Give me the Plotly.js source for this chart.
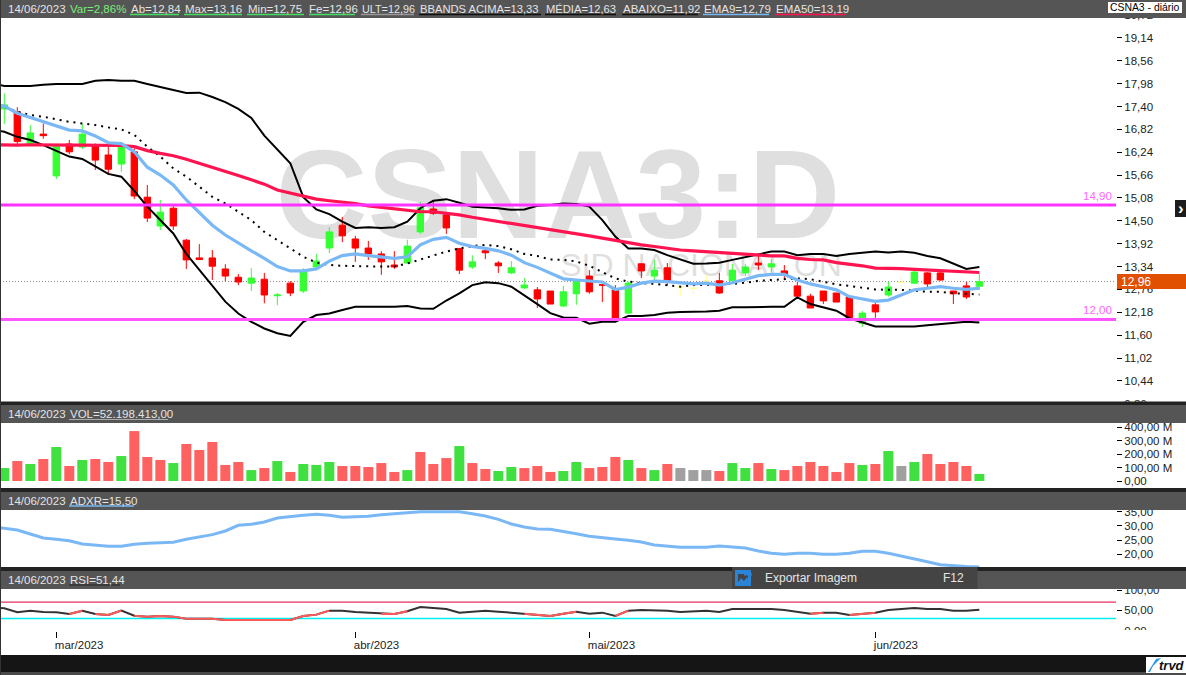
<!DOCTYPE html>
<html><head><meta charset="utf-8">
<script src="https://cdn.plot.ly/plotly-3.0.1.min.js"></script>
<style>html,body{margin:0;padding:0;background:#fff}#c{width:1186px;height:675px}</style>
</head><body><div id="c"></div>
<script>
const openP=[17.34,17.26,16.45,16.70,15.64,16.45,16.37,16.42,16.17,15.94,16.25,15.10,14.37,14.82,14.01,13.56,13.56,13.28,13.07,12.92,13.02,12.60,12.92,12.72,13.33,13.81,14.39,14.04,13.81,13.66,13.38,13.43,14.22,14.80,14.65,13.80,13.33,13.74,13.43,13.18,12.80,12.75,12.72,12.34,12.65,13.10,12.88,12.75,12.16,13.41,13.10,13.31,12.82,12.79,12.98,12.98,12.98,13.18,13.43,13.33,13.23,12.85,12.59,12.72,12.67,12.57,11.90,12.37,12.62,12.94,12.92,13.18,13.18,12.72,12.85,12.84];
const closeP=[17.44,16.51,16.73,16.66,16.42,16.25,16.70,16.04,15.81,16.45,15.13,14.57,14.72,14.37,13.51,13.52,13.35,13.10,12.95,13.05,12.62,12.62,12.67,13.20,13.48,14.22,14.12,13.81,13.66,13.46,13.33,13.86,14.83,14.69,14.32,13.25,13.46,13.69,13.36,13.31,12.87,12.52,12.39,12.70,12.98,12.70,12.87,12.01,12.92,13.23,13.25,12.98,12.82,12.79,12.98,12.67,13.25,13.33,13.38,13.41,13.15,12.59,12.29,12.47,12.44,12.04,12.16,12.19,12.82,12.94,13.20,12.90,13.00,12.65,12.57,12.96];
const highP=[17.73,17.38,16.93,16.97,16.45,16.55,16.96,16.46,16.40,16.46,16.34,15.41,15.03,14.90,14.04,13.91,13.76,13.40,13.15,13.30,13.18,12.67,12.97,13.30,13.66,14.34,14.60,14.12,13.99,13.73,13.73,14.02,14.98,15.03,14.69,13.80,13.63,13.76,13.48,13.48,13.05,12.82,12.72,12.85,13.00,13.25,12.90,12.87,12.96,13.43,13.51,13.43,12.85,12.87,13.13,13.18,13.41,13.41,13.61,13.53,13.38,12.95,12.65,12.72,12.67,12.57,12.21,12.42,12.95,13.13,13.23,13.20,13.20,12.72,12.95,13.16];
const lowP=[16.96,16.42,16.42,16.58,15.56,16.19,16.32,15.79,15.66,15.74,15.05,14.47,14.27,14.27,13.28,13.51,13.00,12.97,12.87,12.72,12.41,12.36,12.59,12.67,13.30,13.68,13.96,13.46,13.51,13.13,13.28,13.42,14.17,14.65,14.17,13.15,13.28,13.53,13.18,13.15,12.77,12.29,12.39,12.32,12.37,12.65,12.44,11.99,12.14,13.05,13.00,12.85,12.59,12.65,12.87,12.65,12.95,13.10,13.25,13.20,13.00,12.59,12.29,12.39,12.44,12.04,11.81,12.04,12.57,12.77,12.90,12.80,12.98,12.39,12.52,12.75];
const flatIdx=[52,53,54,69];
const bbUpper=[17.99,17.92,17.92,17.92,17.95,17.97,17.97,17.97,18.05,18.07,18.05,18.05,17.97,17.90,17.82,17.74,17.75,17.64,17.51,17.34,17.11,16.66,16.32,15.96,15.10,14.79,14.67,14.48,14.32,14.34,14.32,14.34,14.48,14.82,15.01,15.05,14.96,14.86,14.84,14.82,14.78,14.79,14.88,14.90,14.94,14.93,14.86,14.52,14.10,13.80,13.80,13.76,13.63,13.51,13.41,13.42,13.44,13.51,13.58,13.66,13.72,13.72,13.63,13.66,13.66,13.61,13.66,13.69,13.72,13.70,13.72,13.69,13.61,13.55,13.42,13.28,13.33];
const bbLower=[16.82,16.76,16.63,16.55,16.42,16.28,16.13,16.07,15.87,15.69,15.62,15.26,14.86,14.52,14.18,13.66,13.25,12.83,12.45,12.15,11.94,11.77,11.65,11.58,11.94,12.11,12.15,12.24,12.32,12.32,12.32,12.32,12.34,12.28,12.27,12.48,12.66,12.87,12.94,12.92,12.83,12.62,12.39,12.16,12.05,12.04,11.89,11.94,11.94,12.09,12.09,12.11,12.17,12.19,12.19,12.20,12.22,12.31,12.31,12.32,12.32,12.32,12.56,12.39,12.31,12.22,12.03,11.92,11.82,11.82,11.82,11.82,11.85,11.88,11.92,11.94,11.92];
const bbMid=[17.42,17.38,17.27,17.18,17.14,17.07,17.01,16.97,16.93,16.87,16.82,16.68,16.38,16.13,15.83,15.62,15.37,15.11,14.94,14.73,14.52,14.22,14.01,13.80,13.59,13.44,13.38,13.36,13.35,13.34,13.34,13.34,13.42,13.52,13.63,13.72,13.80,13.86,13.89,13.86,13.78,13.66,13.61,13.52,13.51,13.47,13.36,13.21,13.04,12.96,12.92,12.90,12.87,12.83,12.87,12.88,12.88,12.90,12.93,12.98,13.00,13.02,13.04,13.02,12.96,12.89,12.85,12.81,12.76,12.75,12.75,12.73,12.70,12.70,12.66,12.65,12.63];
const ema9=[17.44,17.41,17.23,17.12,17.01,16.90,16.80,16.78,16.65,16.48,16.46,16.25,15.86,15.66,15.41,15.03,14.71,14.39,14.14,13.93,13.74,13.55,13.34,13.23,13.23,13.28,13.48,13.62,13.66,13.62,13.59,13.55,13.59,13.89,14.03,14.08,13.93,13.85,13.80,13.74,13.63,13.44,13.32,13.17,13.03,13.00,12.98,12.95,12.76,12.82,12.92,12.97,12.96,12.93,12.90,12.92,12.87,12.93,13.03,13.11,13.14,13.14,13.00,12.90,12.83,12.75,12.58,12.51,12.46,12.49,12.62,12.75,12.79,12.83,12.79,12.76,12.79];
const ema50=[16.43,16.42,16.42,16.43,16.42,16.42,16.42,16.42,16.42,16.42,16.41,16.38,16.28,16.21,16.15,16.06,15.96,15.87,15.76,15.65,15.54,15.43,15.28,15.20,15.11,15.05,15.01,14.98,14.94,14.88,14.84,14.79,14.75,14.73,14.73,14.69,14.65,14.59,14.54,14.48,14.44,14.38,14.34,14.29,14.22,14.17,14.12,14.06,14.00,13.93,13.89,13.85,13.80,13.76,13.74,13.72,13.68,13.68,13.66,13.63,13.61,13.61,13.55,13.52,13.51,13.44,13.41,13.36,13.30,13.30,13.29,13.27,13.25,13.25,13.23,13.20,13.19];
const volume=[96,148,126,163,252,111,156,163,141,185,370,178,156,133,274,230,289,119,141,81,96,148,67,126,119,141,111,111,104,133,67,81,215,126,170,259,133,89,74,104,96,111,67,74,141,96,104,178,156,96,81,126,96,81,81,74,133,96,133,89,81,111,141,111,67,133,119,126,222,111,141,200,126,141,111,52.2];
const volKind="gdgdgdgddgdddgdddddgdgdgggdddddgdddgddggdd"+"dgg"+"dddgdgd"+"nnnd"+"ggdgddddddgdgngdddd"+"g";
const adxr=[29.69,29.23,28.53,27.12,25.72,25.25,24.78,23.61,23.15,22.79,22.79,23.50,23.85,24.08,24.20,25.25,25.95,26.89,28.18,30.16,30.51,31.33,32.74,33.32,33.67,34.02,33.67,32.97,33.20,33.32,33.90,34.26,34.61,34.96,34.96,34.96,34.96,34.26,33.44,32.27,30.63,29.58,28.88,28.76,28.06,27.24,26.30,25.95,25.37,24.90,24.32,23.26,22.91,22.44,22.44,22.44,22.91,22.68,22.21,21.16,20.34,19.99,20.34,20.34,19.99,19.99,20.34,21.04,21.04,20.34,19.40,18.58,17.41,16.36,15.90,15.70,15.50];
const rsi=[56.5,54.9,45.0,49.1,45.8,45.0,40.9,49.1,40.9,38.5,49.1,36.8,34.4,36.0,34.4,29.4,29.4,29.4,26.1,26.1,26.1,24.5,24.5,26.1,36.0,39.3,49.1,49.1,45.8,44.2,40.9,40.9,47.5,58.2,55.7,53.2,44.2,46.7,49.1,46.7,44.2,41.7,38.5,36.0,41.7,46.7,41.7,44.2,36.0,49.1,50.8,50.8,49.1,45.8,46.7,49.1,45.8,53.2,53.2,53.2,53.2,50.8,45.8,41.7,44.2,44.2,38.5,40.9,44.2,50.8,54.1,55.7,53.2,53.2,49.1,49.1,51.44];
const rsiRedSpans=[[5,6],[7,9],[10,25],[29,31],[40,44],[47,48],[62,63],[65,67]];
const priceTicks=[9.86,10.44,11.02,11.60,12.18,12.76,13.34,13.92,14.50,15.08,15.66,16.24,16.82,17.40,17.98,18.56,19.14,19.72];
const priceLabels=["9,86","10,44","11,02","11,60","12,18","12,76","13,34","13,92","14,50","15,08","15,66","16,24","16,82","17,40","17,98","18,56","19,14","19,72"];
const volTicks=[0,100,200,300,400];
const volLabels=["0,00","100,00 M","200,00 M","300,00 M","400,00 M"];
const adxTicks=[20,25,30,35];
const adxLabels=["20,00","25,00","30,00","35,00"];
const rsiTicks=[0,50,100];
const rsiLabels=["0,00","50,00","100,00"];
const monthTicks=[4,27,45,67];
const monthLabels=["mar/2023","abr/2023","mai/2023","jun/2023"];
const levels=[14.90,12.00];
const lastPrice=12.96;

const FONT='"Liberation Sans",sans-serif';
const FS=11.5;
const W=1186,H=675;
const px=v=>v/W, py=v=>1-v/H;
const idx=openP.map((_,i)=>i);
const lineX=[-1].concat(idx);
const keep=i=>!flatIdx.includes(i);
const pick=a=>a.filter((_,i)=>keep(i));
const pickF=a=>a.filter((_,i)=>!keep(i));
const volColor={g:'#40e040',d:'#ff6060',n:'#a0a0a0'};
function line(y,color,width,dash,ya){return {type:'scatter',mode:'lines',x:lineX,y:y,yaxis:ya||'y',line:{color:color,width:width,dash:dash||'solid'},hoverinfo:'skip',showlegend:false};}
const redX=[],redY=[];
rsiRedSpans.forEach(s=>{for(let i=s[0];i<=s[1];i++){redX.push(i);redY.push(rsi[i+1]);}redX.push(null);redY.push(null);});

const traces=[
 {type:'candlestick',x:pick(idx),open:pick(openP),high:pick(highP),low:pick(lowP),close:pick(closeP),
  increasing:{line:{color:'#33ff33',width:1},fillcolor:'#33ff33'},decreasing:{line:{color:'#ff0000',width:1},fillcolor:'#ff0000'},whiskerwidth:0,hoverinfo:'skip',showlegend:false},
 {type:'candlestick',x:pickF(idx),open:pickF(openP),high:pickF(highP),low:pickF(lowP),close:pickF(closeP),
  increasing:{line:{color:'#ffff99',width:1},fillcolor:'#ffff99'},decreasing:{line:{color:'#ffff99',width:1},fillcolor:'#ffff99'},whiskerwidth:0,hoverinfo:'skip',showlegend:false},
 line(bbUpper,'#000',2),line(bbLower,'#000',2),line(bbMid,'#000',2,'2px,5px'),
 line(ema50,'#ff1450',3.2),line(ema9,'#7ab8f5',3.2),
 {type:'bar',x:idx,y:volume,yaxis:'y2',marker:{color:idx.map(i=>volColor[volKind[i]]),line:{width:0}},hoverinfo:'skip',showlegend:false},
 line(adxr,'#7ab8f5',3,'solid','y3'),
 line(rsi,'#333',2,'solid','y4'),
 {type:'scatter',mode:'lines',x:redX,y:redY,yaxis:'y4',line:{color:'#ff5a5a',width:2},connectgaps:false,hoverinfo:'skip',showlegend:false}
];

function yaxis(top,bot,vTop,vBot,tv,tt){return {domain:[py(bot),py(top)],range:[vBot,vTop],anchor:'x',side:'right',tickmode:'array',tickvals:tv,ticktext:tt,ticks:'outside',ticklen:5,tickcolor:'#000',tickwidth:1,showgrid:false,zeroline:false,showline:false,fixedrange:true,tickfont:{family:FONT,size:FS,color:'#222'}};}

const band=(y0,y1,c,x0,x1)=>({type:'rect',layer:'above',xref:'paper',yref:'paper',x0:px(x0||0),x1:px(x1===undefined?W:x1),y0:py(y1),y1:py(y0),fillcolor:c,line:{width:0}});
const rule=(x0,x1,y,c,w)=>({type:'line',layer:'above',xref:'paper',yref:'paper',x0:px(x0),x1:px(x1),y0:py(y),y1:py(y),line:{color:c,width:w||1.5}});
const hl=(ya,v,c,w,dash,layer)=>({type:'line',layer:layer||'above',xref:'x domain',yref:ya,x0:0,x1:1,y0:v,y1:v,line:{color:c,width:w,dash:dash||'solid'}});
const poly=(pts,c)=>({type:'path',layer:'above',xref:'paper',yref:'paper',path:'M'+pts.map(p=>px(p[0])+','+py(p[1])).join(' L')+' Z',fillcolor:c,line:{width:0}});
const wm=(x0,x1,y0,y1,text,size,bold)=>({type:'rect',layer:'below',xref:'paper',yref:'paper',x0:px(x0),x1:px(x1),y0:py(y1),y1:py(y0),fillcolor:'rgba(0,0,0,0)',line:{width:0},
  label:{text:text,textposition:'middle center',font:{family:FONT,size:size,color:'#dfdfdf',weight:bold?700:400}}});

const shapes=[
 wm(258,858,122,242,'CSNA3:D',127,true),
 wm(540,862,242,282,'SID NACIONAL ON',32,false),
 hl('y',lastPrice,'#888',1,'1px,2px','below'),
 hl('y4',70,'#e8305f',1.2,'solid','below'),hl('y4',30,'#00f0f0',1.5,'solid','below'),
 hl('y',levels[0],'#ff33ff',3),hl('y',levels[1],'#ff55ff',3),
 band(0,18,'#555555'),
 band(401.5,405,'#222222'),band(405,423,'#555555'),
 band(488,492,'#222222'),band(492,510,'#555555'),
 band(567,571,'#222222'),band(571,589,'#555555'),
 band(630,655,'#ffffff',1117,W),
 band(655,672,'#151515'),band(672,675,'#4a4a4a'),
 band(0,675,'#333333',0,1),
 band(274,289,'#e05000',1117,W),
 band(200,217,'#1c1c1c',1175,W),
 band(2,13,'#ffffff',1108,1182),
 band(657,673,'#ffffff',1146,1186),
 poly([[1148,672],[1156,659],[1161,658],[1153,666],[1150,672]],'#2a9ad8'),
 band(567,589,'#444444',732,977.5),
 band(570,586,'#2a84d8',735,751),
 band(574,582,'#444444',738,748),
 poly([[737,584],[741,578],[744,581],[747,577],[750,584]],'#2a84d8'),
 poly([[744,573],[750,573],[750,570.5],[752,574.5],[750,578],[750,575.5],[744,575.5]],'#2a84d8'),
 rule(130,179,14.5,'#44dd66'),rule(184,242,14.5,'#44dd66'),rule(247,304,14.5,'#44dd66'),rule(309,355,14.5,'#44dd66'),
 rule(361,414,14.5,'#999999'),rule(419,541,14.5,'#111111'),rule(545,616,14.5,'#111111'),rule(622,698,14.5,'#111111'),
 rule(703,769,14.5,'#7ab8f5'),rule(775,846,14.5,'#ff1450'),
 rule(69,168,419.5,'#aaaaaa',1),rule(69,134,506,'#7ab8f5',1.5),rule(69,120,585,'#222222',1.2)
];
const txt=(x,y,text,color,size,anchor,extra)=>Object.assign({xref:'paper',yref:'paper',x:px(x),y:py(y),text:text,showarrow:false,xanchor:anchor||'left',yanchor:'middle',borderpad:0,font:{family:FONT,size:size||FS,color:color||'#e4e4e4'}},extra||{});
const annotations=[
 txt(7,9,'14/06/2023'),txt(69,9,'Var=2,86%','#77ee77'),txt(130,9,'Ab=12,84'),txt(184,9,'Max=13,16'),txt(247,9,'Min=12,75'),txt(308,9,'Fe=12,96'),
 txt(361,9,'ULT=12,96','#e4e4e4',10.8),txt(419,9,'BBANDS ACIMA=13,33','#e4e4e4',11.2),txt(545,9,'MÉDIA=12,63','#e4e4e4',11.2),txt(622,9,'ABAIXO=11,92'),txt(703,9,'EMA9=12,79'),txt(775,9,'EMA50=13,19'),
 txt(1145,7.5,'CSNA3 - diário','#000',10.4,'center'),
 txt(7,413.5,'14/06/2023'),txt(69,413.5,'VOL=52.198.413,00'),
 txt(7,500.5,'14/06/2023'),txt(69,500.5,'ADXR=15,50'),
 txt(7,580,'14/06/2023'),txt(69,580,'RSI=51,44'),
 txt(764,578,'Exportar Imagem','#e4e4e4',12),txt(942,578,'F12','#e4e4e4',12),
 txt(1113,196,'14,90','#ff66ff',FS,'right'),txt(1113,310,'12,00','#ff66ff',FS,'right'),
 txt(1120,281.5,'12,96','#ffffff',12),
 txt(1180.5,208.5,'<b>›</b>','#ffffff',17,'center'),
 txt(1172,665.5,'<b><i>trvd</i></b>','#111',13,'center')
];

const layout={
 width:W,height:H,margin:{l:0,r:0,t:0,b:0,pad:0},paper_bgcolor:'#fff',plot_bgcolor:'#fff',showlegend:false,bargap:0.23,boxgap:0.3,
 xaxis:{domain:[0,px(1116)],range:[-0.331,85.51],anchor:'y4',tickmode:'array',tickvals:monthTicks,ticktext:monthLabels,ticks:'outside',ticklen:6,tickcolor:'#000',tickwidth:1,ticklabelposition:'outside right',ticklabelstandoff:3,ticklabelshift:-2,showgrid:false,zeroline:false,showline:false,fixedrange:true,rangeslider:{visible:false},tickfont:{family:FONT,size:FS,color:'#222'}},
 yaxis:yaxis(0,405,20.10,9.83,priceTicks,priceLabels),
 yaxis2:yaxis(405,491,563,-74,volTicks,volLabels),
 yaxis3:yaxis(492,571,41.86,14.14,adxTicks,adxLabels),
 yaxis4:yaxis(571,631,146.8,-1,rsiTicks,rsiLabels),
 shapes:shapes,annotations:annotations
};
Plotly.newPlot('c',traces,layout,{staticPlot:true,displayModeBar:false});
</script></body></html>
